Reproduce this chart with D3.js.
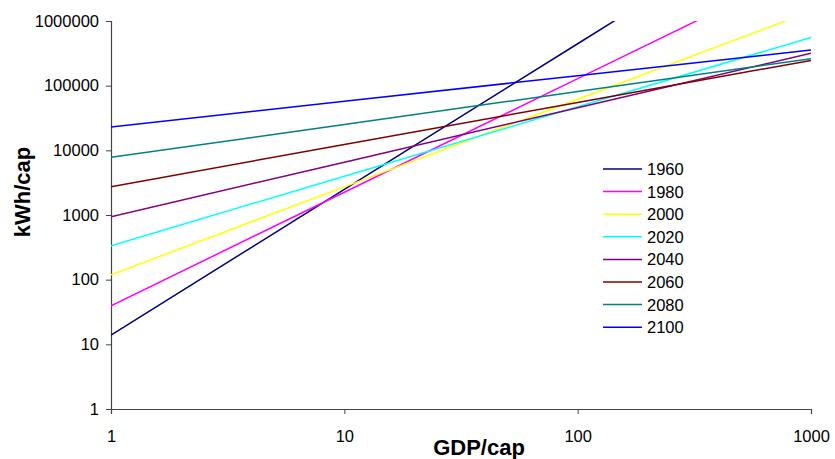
<!DOCTYPE html>
<html>

<head>
	<title>kWh/cap vs GDP/cap</title>
	<script src="https://cdn.jsdelivr.net/npm/d3@7/dist/d3.min.js"></script>
	<style>
		body {
			margin: 0;
			background: #fff;
		}

		text {
			font-family: "Liberation Sans", Arial, sans-serif;
		}
	</style>
</head>

<body>
	<svg id="chart" width="835" height="459"></svg>

	<script>
		var gdp = [1, 10, 100, 1000];

		var years = ['1960', '1980', '2000', '2020', '2040', '2060', '2080', '2100'];

		// kWh/cap at each gdp point (values above 1000000 are clipped by the plot)
		var y1960 = [13.9, 2490, 445000, 79000000];
		var y1980 = [39.5, 2250, 128500, 7300000];
		var y2000 = [119, 2720, 61800, 1410000];
		var y2020 = [335, 3970, 47100, 558000];
		var y2040 = [942, 6550, 45500, 316000];
		var y2060 = [2740, 12300, 55000, 246000];
		var y2080 = [7800, 25100, 81100, 261000];
		var y2100 = [22950, 57300, 142600, 356000];

		var colors = ['#000080', '#ff00ff', '#ffff00', '#00ffff', '#800080', '#800000', '#008080', '#0000ff'];

		var xTicks = [1, 10, 100, 1000];
		var yTicks = [1, 10, 100, 1000, 10000, 100000, 1000000];

		var series = [y1960, y1980, y2000, y2020, y2040, y2060, y2080, y2100].map(function (vals, i) {
			return {
				name: years[i],
				color: colors[i],
				values: vals.map(function (v, j) { return { x: gdp[j], y: v }; })
			};
		});

		var svg = d3.select('#chart'),
			plotLeft = 111, plotRight = 811, plotTop = 21, plotBottom = 409;

		var x = d3.scaleLog()
			.domain([1, 1000])
			.range([plotLeft, plotRight]);

		var y = d3.scaleLog()
			.domain([1, 1000000])
			.range([plotBottom, plotTop]);

		svg.append('defs')
			.append('clipPath')
			.attr('id', 'plot')
			.append('rect')
			.attr('x', plotLeft)
			.attr('y', plotTop)
			.attr('width', plotRight - plotLeft)
			.attr('height', plotBottom - plotTop);

		var line = d3.line()
			.x(function (d) { return x(d.x); })
			.y(function (d) { return y(d.y); });

		// axes
		var xAxis = svg.append('g')
			.attr('transform', 'translate(0,' + plotBottom + ')')
			.call(d3.axisBottom(x).tickValues(xTicks).tickFormat(d3.format('d')).tickSizeOuter(0).tickSize(5).tickPadding(16));

		var yAxis = svg.append('g')
			.attr('transform', 'translate(' + plotLeft + ',0)')
			.call(d3.axisLeft(y).tickValues(yTicks).tickFormat(d3.format('d')).tickSizeOuter(0).tickSize(5).tickPadding(7));

		[xAxis, yAxis].forEach(function (a) {
			a.select('.domain').attr('stroke', '#444').attr('stroke-width', 1.2);
			a.selectAll('.tick line').attr('stroke', '#444');
			a.selectAll('.tick text')
				.attr('fill', '#000')
				.style('font-size', '16.5px')
				.style('font-family', '"Liberation Sans", Arial, sans-serif');
		});

		svg.append('g')
			.attr('clip-path', 'url(#plot)')
			.selectAll('path')
			.data(series)
			.enter()
			.append('path')
			.attr('fill', 'none')
			.attr('stroke', function (d) { return d.color; })
			.attr('stroke-width', 1.5)
			.attr('d', function (d) { return line(d.values); });

		// axis titles
		svg.append('text')
			.attr('x', 479)
			.attr('y', 455)
			.attr('text-anchor', 'middle')
			.style('font-size', '22px')
			.style('font-weight', 'bold')
			.text('GDP/cap');

		svg.append('text')
			.attr('transform', 'translate(30,192) rotate(-90)')
			.attr('text-anchor', 'middle')
			.style('font-size', '22px')
			.style('font-weight', 'bold')
			.text('kWh/cap');

		// legend
		var legend = svg.append('g')
			.selectAll('g')
			.data(series)
			.enter()
			.append('g')
			.attr('transform', function (d, i) { return 'translate(603,' + (169 + i * 22.6) + ')'; });

		legend.append('line')
			.attr('x1', 0)
			.attr('x2', 39)
			.attr('stroke', function (d) { return d.color; })
			.attr('stroke-width', 1.5);

		legend.append('text')
			.attr('x', 44)
			.attr('dy', '0.36em')
			.style('font-size', '16.5px')
			.text(function (d) { return d.name; });
	</script>
</body>

</html>
